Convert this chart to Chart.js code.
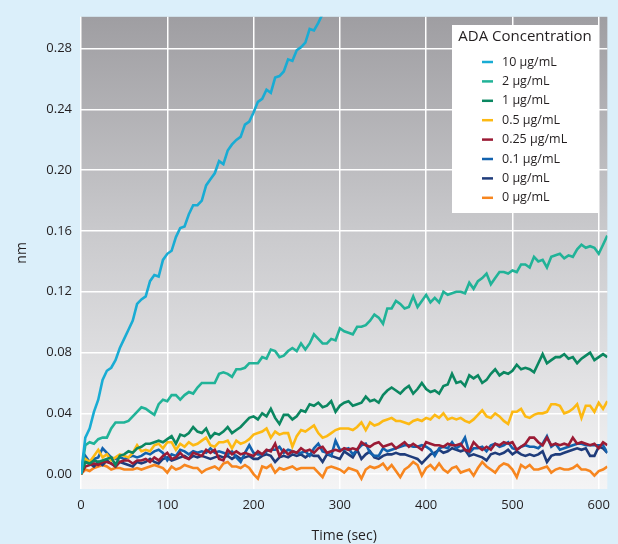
<!DOCTYPE html>
<html lang="en">
<head>
<meta charset="UTF-8">
<title>ADA Concentration</title>
<script src="https://cdn.jsdelivr.net/npm/chart.js@4.4.0/dist/chart.umd.min.js"></script>
<style>
  html, body { margin: 0; padding: 0; background: #dbeffa; }
  #wrap { width: 618px; height: 544px; }
</style>
</head>
<body>
<div id="wrap"><canvas id="myChart" width="618" height="544"></canvas></div>
<script>
// time axis, seconds (one reading every 5 s)
const times = [];
for (let t = 0; t <= 610; t += 5) times.push(t);

const xTicks = [0, 100, 200, 300, 400, 500, 600];
const yTicks = [0, 0.04, 0.08, 0.12, 0.16, 0.20, 0.24, 0.28];

const seriesNames = ['10 µg/mL', '2 µg/mL', '1 µg/mL', '0.5 µg/mL', '0.25 µg/mL', '0.1 µg/mL', '0 µg/mL', '0 µg/mL'];
const seriesColors = ['#19acd4', '#21b398', '#0b8761', '#fdb913', '#9b1b35', '#1262ae', '#1f3c7b', '#f7861f'];

// 10 ug/mL - runs off the top of the plot near 280 s
const ada10 = [0.000,0.024,0.030,0.041,0.049,0.062,0.068,0.070,0.075,0.083,0.089,0.095,0.101,0.112,0.115,0.117,0.127,0.131,0.130,0.141,
  0.145,0.147,0.156,0.162,0.163,0.171,0.177,0.177,0.180,0.190,0.194,0.198,0.206,0.204,0.213,0.217,0.220,0.222,0.230,0.232,
  0.238,0.245,0.247,0.253,0.251,0.261,0.262,0.265,0.273,0.272,0.279,0.281,0.284,0.293,0.292,0.297,0.303];

const ada2 = [0.000,0.019,0.021,0.020,0.023,0.024,0.024,0.030,0.034,0.034,0.034,0.035,0.038,0.041,0.044,0.043,0.041,0.039,0.046,0.049,
  0.048,0.052,0.052,0.049,0.052,0.054,0.053,0.057,0.060,0.060,0.060,0.060,0.066,0.067,0.066,0.064,0.069,0.069,0.070,0.073,
  0.073,0.073,0.077,0.076,0.082,0.081,0.077,0.078,0.081,0.083,0.081,0.086,0.082,0.086,0.092,0.089,0.086,0.086,0.089,0.088,
  0.096,0.094,0.093,0.092,0.097,0.097,0.098,0.101,0.105,0.103,0.099,0.109,0.109,0.114,0.112,0.109,0.110,0.117,0.110,0.114,
  0.118,0.113,0.116,0.113,0.120,0.118,0.119,0.120,0.120,0.119,0.126,0.122,0.127,0.129,0.132,0.125,0.129,0.133,0.133,0.132,
  0.134,0.133,0.138,0.138,0.136,0.143,0.140,0.141,0.136,0.143,0.144,0.145,0.142,0.144,0.143,0.148,0.151,0.149,0.150,0.149,
  0.145,0.151,0.157];

const ada1 = [0.000,0.008,0.007,0.009,0.008,0.009,0.010,0.011,0.006,0.012,0.013,0.015,0.014,0.017,0.018,0.020,0.020,0.021,0.022,0.021,
  0.023,0.025,0.020,0.026,0.025,0.027,0.031,0.028,0.027,0.030,0.024,0.027,0.026,0.028,0.031,0.027,0.029,0.031,0.034,0.037,
  0.038,0.036,0.040,0.038,0.043,0.037,0.033,0.039,0.039,0.036,0.038,0.042,0.041,0.046,0.045,0.047,0.044,0.045,0.048,0.041,
  0.045,0.047,0.048,0.045,0.046,0.047,0.051,0.048,0.049,0.047,0.052,0.055,0.057,0.055,0.053,0.056,0.058,0.053,0.056,0.060,
  0.056,0.054,0.055,0.053,0.058,0.059,0.066,0.060,0.061,0.058,0.065,0.063,0.065,0.060,0.062,0.066,0.069,0.065,0.067,0.066,
  0.068,0.072,0.069,0.070,0.069,0.067,0.073,0.079,0.073,0.075,0.077,0.077,0.079,0.076,0.077,0.073,0.076,0.078,0.080,0.075,
  0.077,0.079,0.077];

const ada05 = [0.000,0.010,0.008,0.012,0.016,0.011,0.013,0.009,0.011,0.013,0.012,0.011,0.014,0.019,0.015,0.016,0.015,0.019,0.020,0.017,
  0.021,0.021,0.016,0.020,0.018,0.021,0.019,0.020,0.022,0.024,0.019,0.018,0.021,0.021,0.022,0.017,0.022,0.020,0.021,0.023,
  0.026,0.027,0.028,0.030,0.024,0.028,0.026,0.027,0.027,0.018,0.025,0.029,0.028,0.030,0.032,0.027,0.024,0.025,0.027,0.029,
  0.030,0.030,0.030,0.029,0.031,0.034,0.029,0.034,0.032,0.033,0.035,0.036,0.037,0.035,0.035,0.034,0.033,0.035,0.036,0.035,
  0.037,0.036,0.039,0.037,0.040,0.036,0.037,0.036,0.037,0.035,0.034,0.036,0.039,0.042,0.038,0.037,0.040,0.038,0.035,0.033,
  0.041,0.041,0.043,0.038,0.037,0.039,0.040,0.040,0.041,0.046,0.046,0.045,0.040,0.041,0.043,0.046,0.037,0.045,0.045,0.041,
  0.047,0.043,0.048];

const ada025 = [0.000,0.005,0.006,0.007,0.006,0.008,0.008,0.007,0.005,0.008,0.009,0.009,0.007,0.009,0.009,0.010,0.008,0.011,0.009,0.012,
  0.014,0.010,0.011,0.014,0.011,0.010,0.014,0.013,0.012,0.016,0.014,0.016,0.010,0.009,0.016,0.013,0.015,0.013,0.014,0.013,
  0.012,0.015,0.013,0.016,0.015,0.020,0.012,0.016,0.013,0.015,0.014,0.017,0.015,0.016,0.014,0.017,0.018,0.014,0.015,0.016,
  0.015,0.017,0.016,0.017,0.016,0.021,0.019,0.018,0.020,0.021,0.018,0.019,0.020,0.017,0.019,0.021,0.018,0.020,0.018,0.016,
  0.021,0.020,0.019,0.019,0.018,0.020,0.019,0.019,0.020,0.016,0.015,0.021,0.018,0.016,0.018,0.016,0.020,0.019,0.021,0.020,
  0.021,0.016,0.018,0.020,0.024,0.024,0.021,0.019,0.024,0.019,0.020,0.019,0.020,0.019,0.024,0.020,0.021,0.020,0.019,0.020,
  0.017,0.021,0.019];

const ada01 = [0.000,0.012,0.008,0.010,0.011,0.017,0.014,0.011,0.010,0.011,0.010,0.011,0.012,0.011,0.012,0.014,0.013,0.015,0.016,0.014,
  0.009,0.013,0.012,0.016,0.015,0.013,0.015,0.014,0.015,0.014,0.017,0.014,0.015,0.014,0.013,0.015,0.011,0.008,0.014,0.019,
  0.014,0.013,0.013,0.015,0.016,0.016,0.018,0.014,0.016,0.015,0.014,0.014,0.015,0.012,0.017,0.020,0.015,0.014,0.012,0.022,
  0.016,0.016,0.017,0.013,0.016,0.019,0.020,0.014,0.012,0.012,0.017,0.015,0.016,0.017,0.018,0.019,0.019,0.018,0.018,0.019,
  0.018,0.016,0.012,0.017,0.018,0.017,0.021,0.017,0.019,0.024,0.014,0.017,0.017,0.018,0.015,0.019,0.020,0.018,0.019,0.021,
  0.017,0.016,0.018,0.019,0.018,0.018,0.017,0.020,0.025,0.018,0.020,0.016,0.017,0.018,0.019,0.020,0.020,0.019,0.019,0.019,
  0.019,0.019,0.014];

const ada0a = [0.000,0.009,0.007,0.005,0.008,0.006,0.009,0.007,0.005,0.008,0.007,0.006,0.005,0.008,0.007,0.008,0.010,0.008,0.007,0.010,
  0.011,0.009,0.010,0.011,0.012,0.010,0.012,0.011,0.012,0.011,0.010,0.011,0.012,0.011,0.012,0.010,0.012,0.010,0.011,0.012,
  0.010,0.010,0.012,0.013,0.012,0.008,0.011,0.012,0.011,0.013,0.012,0.013,0.011,0.013,0.012,0.012,0.008,0.013,0.012,0.011,
  0.010,0.015,0.013,0.011,0.016,0.010,0.013,0.015,0.011,0.010,0.012,0.013,0.013,0.014,0.013,0.013,0.012,0.011,0.010,0.007,
  0.010,0.013,0.014,0.016,0.014,0.015,0.017,0.016,0.015,0.016,0.012,0.013,0.012,0.011,0.009,0.013,0.014,0.013,0.014,0.016,
  0.013,0.015,0.013,0.012,0.013,0.012,0.013,0.015,0.008,0.012,0.013,0.013,0.014,0.015,0.016,0.017,0.016,0.017,0.012,0.012,
  0.018,0.017,0.014];

const ada0b = [0.000,0.003,0.002,0.004,0.005,0.006,0.005,0.003,0.004,0.004,0.003,0.003,0.003,0.004,0.003,0.004,0.005,0.006,0.005,0.004,
  0.001,0.005,0.003,0.004,0.006,0.005,0.004,0.004,0.001,0.003,0.004,0.005,0.003,0.007,0.008,0.005,0.005,0.004,0.006,0.004,
  0.000,-0.003,0.005,0.004,0.006,0.001,0.004,0.003,0.004,0.005,0.003,0.004,0.004,0.004,0.004,0.001,-0.002,0.004,0.005,0.004,
  0.003,0.001,0.004,0.003,0.002,-0.003,0.003,0.005,0.004,0.005,0.007,0.003,0.006,0.002,-0.002,0.003,0.005,0.008,0.006,-0.001,
  0.004,0.006,0.003,0.007,0.003,0.001,0.004,0.005,0.001,0.002,0.003,-0.001,0.004,0.008,0.005,0.003,0.001,0.005,0.007,0.006,
  0.003,-0.002,0.006,0.004,0.006,0.003,0.003,0.004,0.005,0.001,0.003,0.004,0.003,0.003,0.004,0.006,0.003,0.003,0.002,-0.001,
  0.002,0.003,0.005];

const allSeries = [ada10, ada2, ada1, ada05, ada025, ada01, ada0a, ada0b];

const FONT = "'Open Sans', 'Noto Sans', sans-serif";

// grey gradient behind the plot
const plotBg = {
  id: 'plotBg',
  beforeDraw(chart) {
    const { ctx, chartArea: a } = chart;
    const g = ctx.createLinearGradient(0, a.top, 0, a.bottom);
    g.addColorStop(0, '#9f9ea2');
    g.addColorStop(0.45, '#c9c9cc');
    g.addColorStop(1, '#f4f4f5');
    ctx.save();
    ctx.fillStyle = g;
    ctx.fillRect(a.left, a.top, a.right - a.left, a.bottom - a.top);
    ctx.restore();
  }
};

// white legend box inside the plot, top right
const boxLegend = {
  id: 'boxLegend',
  afterDraw(chart) {
    const { ctx } = chart;
    const x = 452, y = 25, w = 146, h = 188;
    ctx.save();
    ctx.fillStyle = '#ffffff';
    ctx.fillRect(x, y, w, h);
    ctx.fillStyle = '#231f20';
    ctx.font = '15px ' + FONT;
    ctx.textAlign = 'center';
    ctx.textBaseline = 'middle';
    ctx.fillText('ADA Concentration', x + w / 2, y + 12);
    ctx.font = '12.5px ' + FONT;
    ctx.textAlign = 'left';
    chart.data.datasets.forEach((ds, i) => {
      const cy = y + 37 + i * 19.4;
      ctx.strokeStyle = ds.borderColor;
      ctx.lineWidth = 2.5;
      ctx.beginPath();
      ctx.moveTo(x + 30, cy);
      ctx.lineTo(x + 41, cy);
      ctx.stroke();
      ctx.fillText(ds.label, x + 50, cy);
    });
    ctx.restore();
  }
};

const datasets = allSeries.map((arr, i) => ({
  label: seriesNames[i],
  data: arr.map((v, j) => ({ x: times[j], y: v })),
  borderColor: seriesColors[i],
  backgroundColor: seriesColors[i],
  borderWidth: 2.6,
  pointRadius: 0,
  tension: 0,
  fill: false,
  clip: 0
}));

const ctx = document.getElementById('myChart').getContext('2d');
const myChart = new Chart(ctx, {
  type: 'line',
  data: { datasets: datasets },
  options: {
    responsive: false,
    animation: false,
    layout: { padding: { top: 14, right: 8, bottom: 0, left: 0 } },
    plugins: {
      legend: { display: false },
      tooltip: { enabled: false }
    },
    scales: {
      x: {
        type: 'linear',
        min: 0,
        max: 610,
        afterBuildTicks: s => { s.ticks = xTicks.map(v => ({ value: v })); },
        afterFit: s => { s.height = 55; },
        grid: { color: '#ffffff', lineWidth: 1.5, drawTicks: false },
        border: { display: false },
        ticks: { padding: 8, color: '#231f20', font: { family: FONT, size: 13 }, maxRotation: 0 },
        title: { display: true, text: 'Time (sec)', color: '#231f20', font: { family: FONT, size: 14 }, padding: { top: 6, bottom: 0 } }
      },
      y: {
        min: -0.0098,
        max: 0.301,
        afterBuildTicks: s => { s.ticks = yTicks.map(v => ({ value: v })); },
        afterFit: s => { s.width = 81; },
        grid: { color: '#ffffff', lineWidth: 1.5, drawTicks: false },
        border: { display: false },
        ticks: { padding: 9, color: '#231f20', font: { family: FONT, size: 13 }, callback: v => v.toFixed(2) },
        title: { display: true, text: 'nm', color: '#231f20', font: { family: FONT, size: 14 }, padding: { top: 14, bottom: 0 } }
      }
    }
  },
  plugins: [plotBg, boxLegend]
});
</script>
</body>
</html>
